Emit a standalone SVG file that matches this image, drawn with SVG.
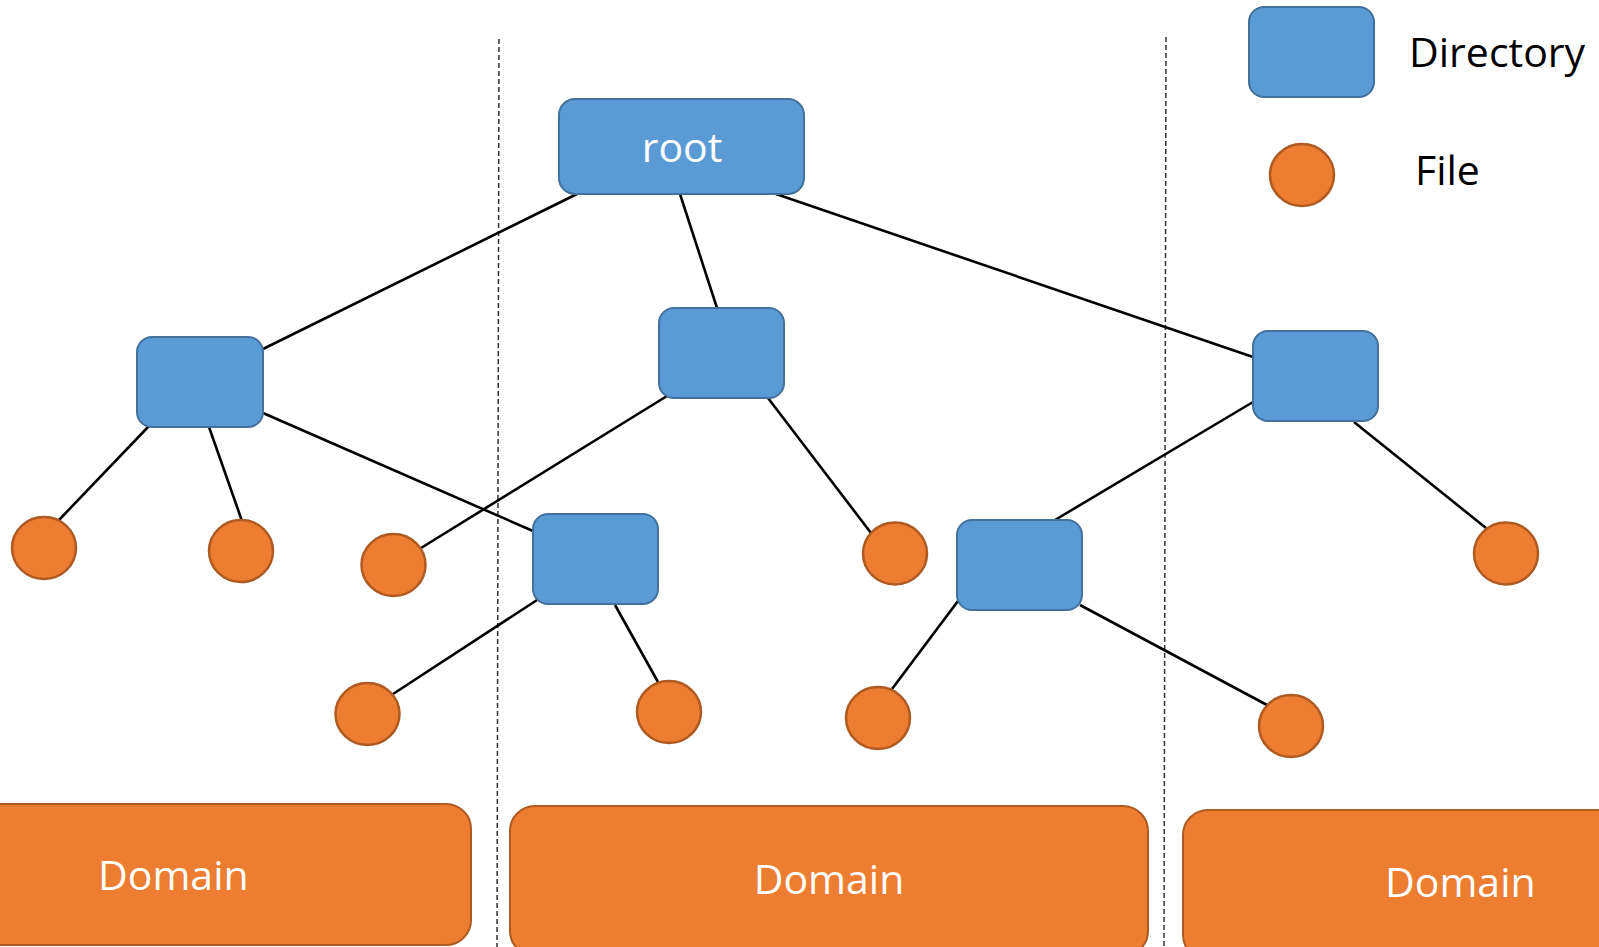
<svg xmlns="http://www.w3.org/2000/svg" width="1599" height="947" viewBox="0 0 1599 947">
<style>
.dir{fill:#5B9BD5;stroke:#41719C;stroke-width:2}
.file{fill:#ED7D31;stroke:#AE5A21;stroke-width:2.5}
.dom{fill:#ED7D31;stroke:#AE5A21;stroke-width:2}
.edge{stroke:#000;stroke-width:2.6;fill:none}
.sep{stroke:#333;stroke-width:1.5;stroke-dasharray:5 3;fill:none}
.wt{fill:#fff;font-family:"Open Sans","Noto Sans",sans-serif;font-size:41px}
.bt{fill:#000;font-family:"Open Sans","Noto Sans",sans-serif;font-size:41px}
</style>
<rect width="1599" height="947" fill="#fff"/>
<g id="separators">
<line class="sep" x1="499" y1="39" x2="497" y2="947"/>
<line class="sep" x1="1166" y1="37" x2="1164" y2="947"/>
</g>
<g id="domain1"><rect class="dom" x="-30" y="804" width="501" height="141" rx="25"/><text class="wt" x="98" y="890">Domain</text></g>
<g id="domain2"><rect class="dom" x="510" y="806" width="638" height="150" rx="25"/><text class="wt" x="829" y="894" text-anchor="middle">Domain</text></g>
<g id="domain3"><rect class="dom" x="1183" y="810" width="450" height="150" rx="25"/><text class="wt" x="1385" y="897">Domain</text></g>
<g id="connectors">
<line class="edge" x1="577" y1="194" x2="263" y2="349"/>
<line class="edge" x1="680" y1="194" x2="717" y2="308"/>
<line class="edge" x1="776" y1="194" x2="1253" y2="357"/>
<line class="edge" x1="149" y1="426" x2="58" y2="521"/>
<line class="edge" x1="209" y1="427" x2="242" y2="521"/>
<line class="edge" x1="263" y1="413" x2="533" y2="531"/>
<line class="edge" x1="667" y1="396" x2="421" y2="548"/>
<line class="edge" x1="768" y1="398" x2="871" y2="533"/>
<line class="edge" x1="537" y1="600" x2="393" y2="694"/>
<line class="edge" x1="615" y1="605" x2="658" y2="682"/>
<line class="edge" x1="958" y1="601" x2="892" y2="689"/>
<line class="edge" x1="1080" y1="605" x2="1267" y2="705"/>
<line class="edge" x1="1253" y1="402" x2="1055" y2="520"/>
<line class="edge" x1="1354" y1="422" x2="1486" y2="528"/>
</g>
<g id="root"><rect class="dir" x="559" y="99" width="245" height="95" rx="16"/><text class="wt" x="682" y="162" text-anchor="middle">root</text></g>
<g id="dirA"><rect class="dir" x="137" y="337" width="126" height="90" rx="15"/></g>
<g id="dirB"><rect class="dir" x="659" y="308" width="125" height="90" rx="15"/></g>
<g id="dirC"><rect class="dir" x="1253" y="331" width="125" height="90" rx="15"/></g>
<g id="dirD"><rect class="dir" x="533" y="514" width="125" height="90" rx="15"/></g>
<g id="dirE"><rect class="dir" x="957" y="520" width="125" height="90" rx="15"/></g>
<g id="file1"><ellipse class="file" cx="44" cy="548" rx="32" ry="31"/></g>
<g id="file2"><ellipse class="file" cx="241" cy="551" rx="32" ry="31"/></g>
<g id="file3"><ellipse class="file" cx="393.5" cy="565" rx="32" ry="31"/></g>
<g id="file4"><ellipse class="file" cx="895" cy="553.5" rx="32" ry="31"/></g>
<g id="file5"><ellipse class="file" cx="1506" cy="553.5" rx="32" ry="31"/></g>
<g id="file6"><ellipse class="file" cx="367.5" cy="714" rx="32" ry="31"/></g>
<g id="file7"><ellipse class="file" cx="669" cy="712" rx="32" ry="31"/></g>
<g id="file8"><ellipse class="file" cx="878" cy="718" rx="32" ry="31"/></g>
<g id="file9"><ellipse class="file" cx="1291" cy="726" rx="32" ry="31"/></g>
<g id="legend">
<rect class="dir" x="1249" y="7" width="125" height="90" rx="15"/>
<text class="bt" x="1409" y="67">Directory</text>
<ellipse class="file" cx="1302" cy="175" rx="32" ry="31"/>
<text class="bt" x="1415" y="185">File</text>
</g>
</svg>
